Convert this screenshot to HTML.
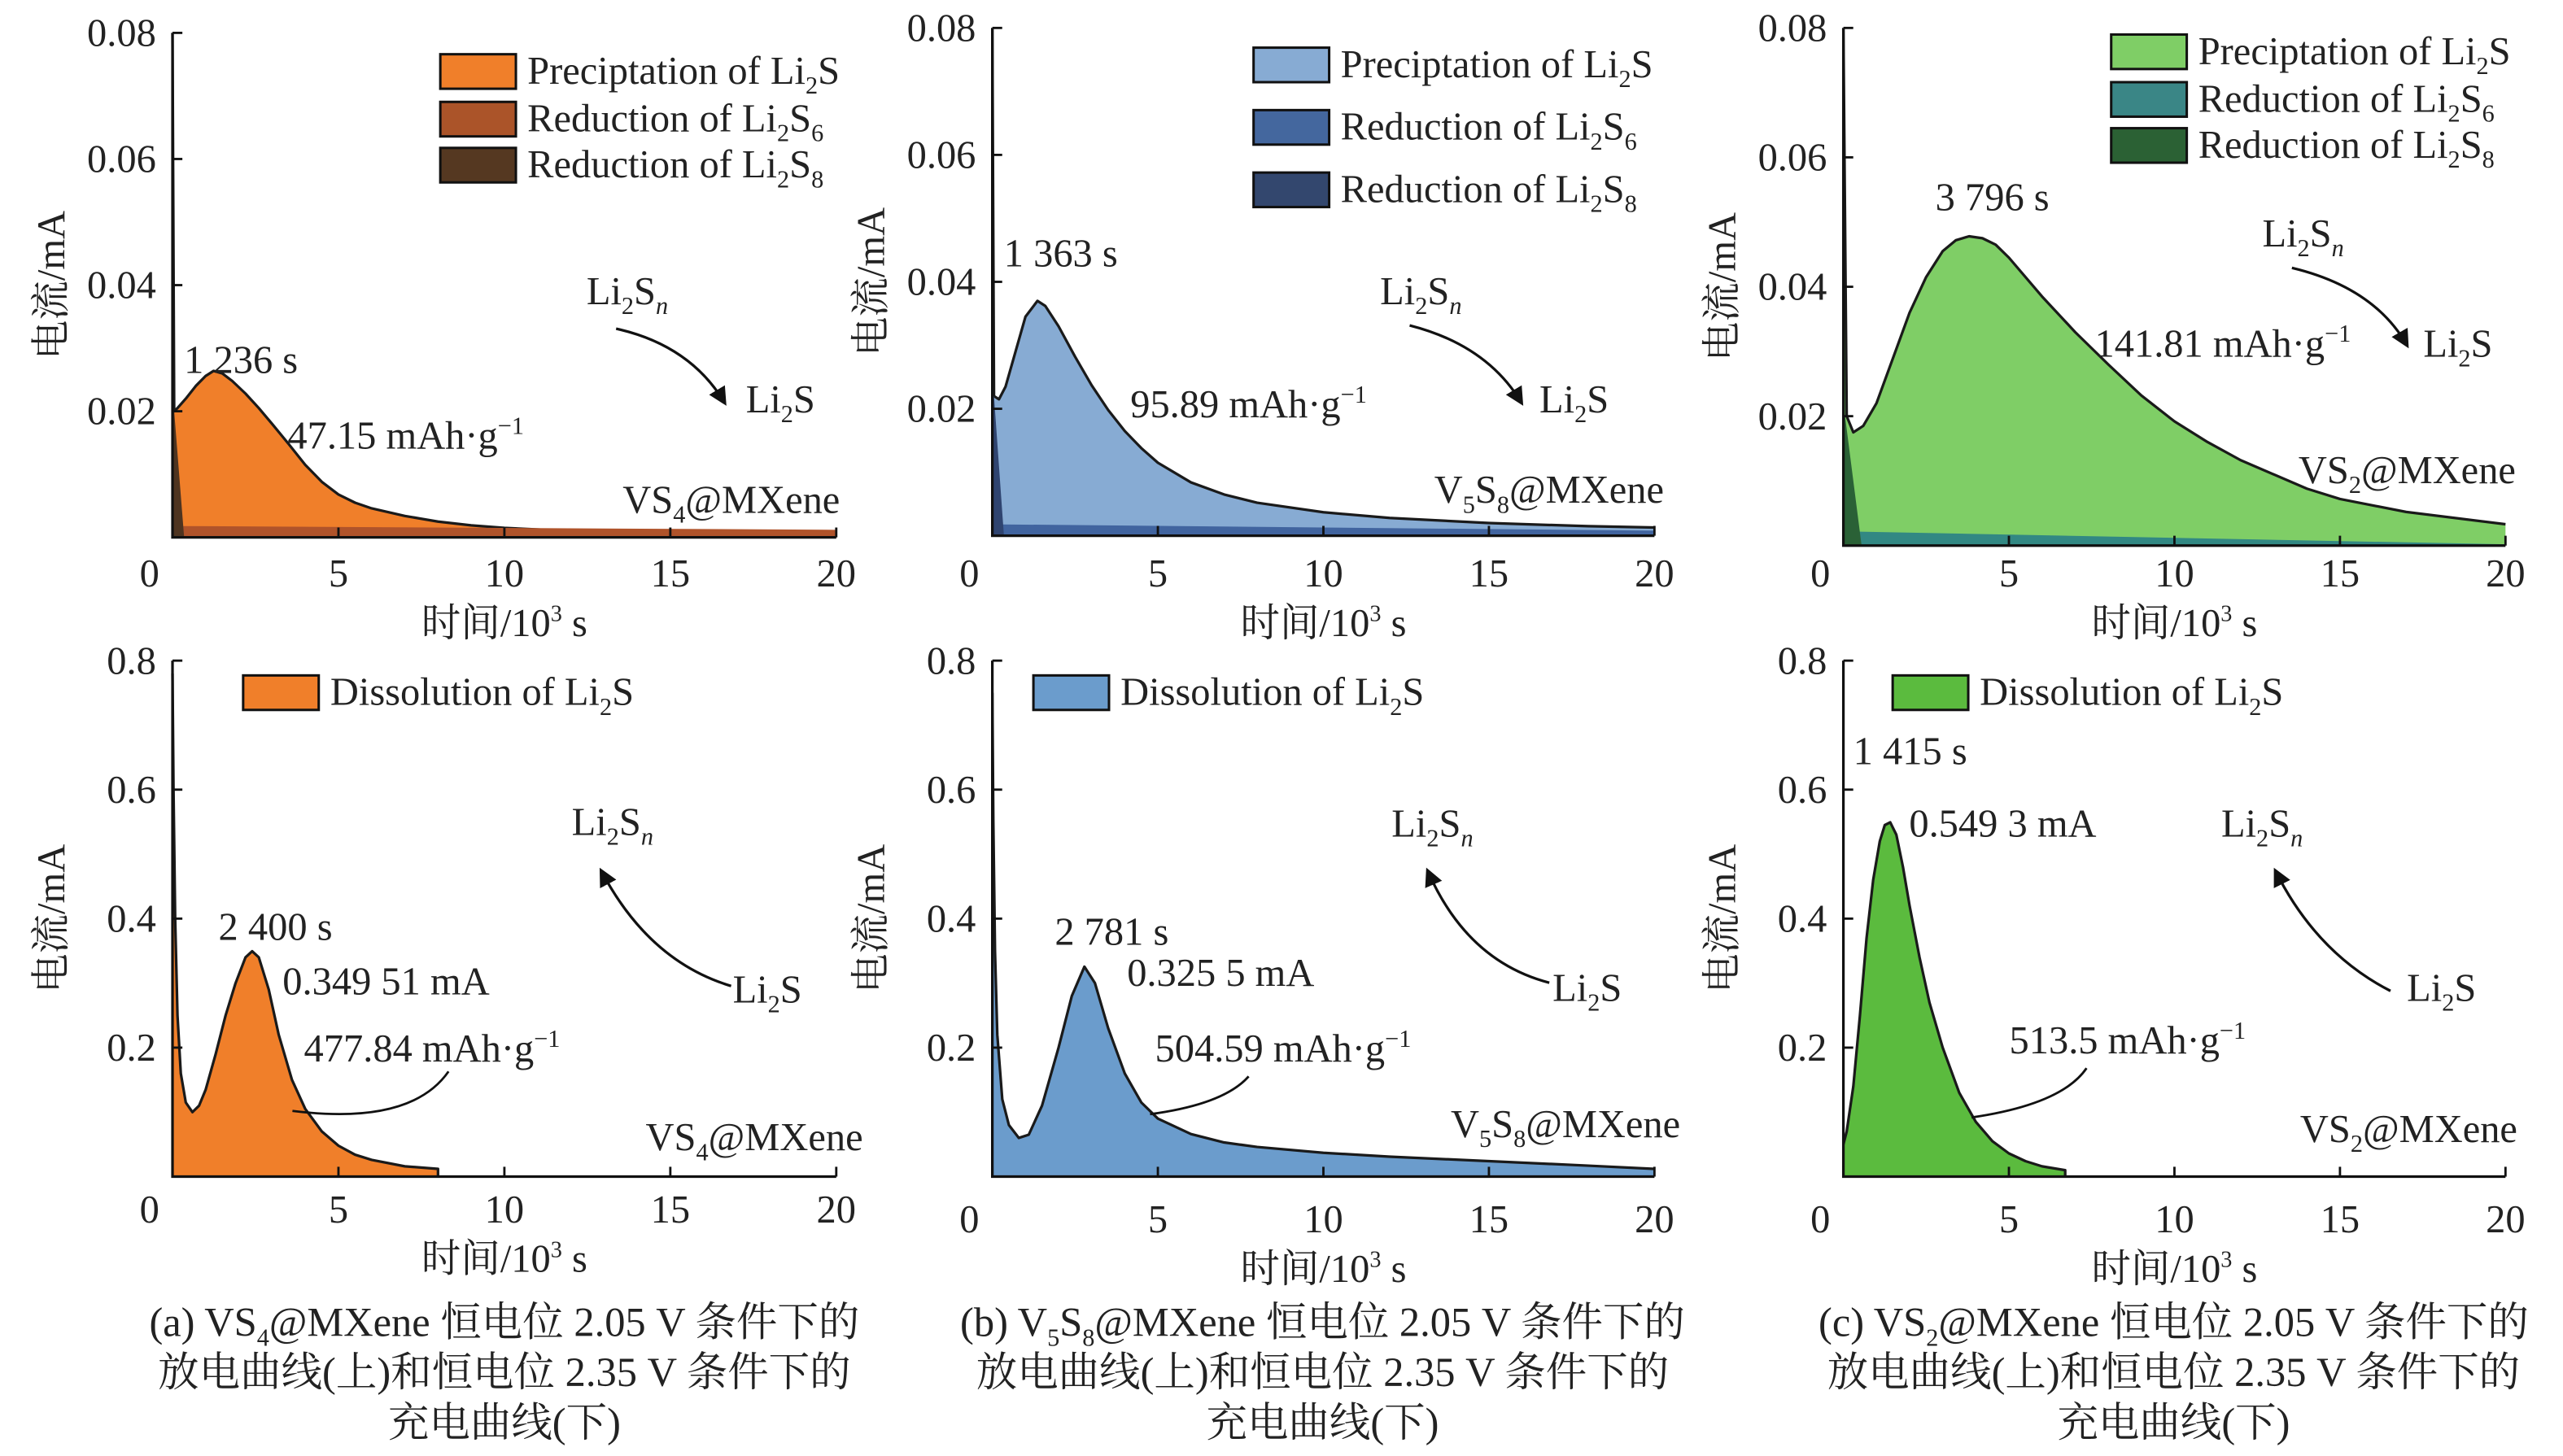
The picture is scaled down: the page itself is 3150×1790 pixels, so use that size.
<!DOCTYPE html>
<html><head><meta charset="utf-8">
<style>
html,body{margin:0;padding:0;background:#fff;}
svg{display:block;}
svg text{font-family:"Liberation Serif","Noto Serif CJK SC",serif;fill:#222;}
</style></head>
<body>
<svg id="fig" width="3150" height="1790" viewBox="0 0 1560 886" preserveAspectRatio="none" xmlns="http://www.w3.org/2000/svg" font-family="'Liberation Serif','Noto Serif CJK SC',serif">
<defs>
<marker id="ah" viewBox="0 0 10 10" refX="8" refY="5" markerWidth="7" markerHeight="7" orient="auto"><path d="M0,0 L10,5 L0,10 z" fill="#111"/></marker>
</defs>
<g id="layer"></g>
</svg>
<script>
// ---- data (time in 10^3 s, current in mA) ----
const xTicks = [0, 5, 10, 15, 20];
const yTicksTop = [0.02, 0.04, 0.06, 0.08];
const yTicksBot = [0.2, 0.4, 0.6, 0.8];
const yTickLabelsTop = ["0.02", "0.04", "0.06", "0.08"];
const yTickLabelsBot = ["0.2", "0.4", "0.6", "0.8"];

const tA1 = [0, 0.05, 0.15, 0.4, 0.7, 1.0, 1.236, 1.5, 1.8, 2.2, 2.6, 3.0, 3.5, 4.0, 4.5, 5.0, 5.5, 6.0, 7.0, 8.0, 9.0, 10.0, 12.0, 15.0, 18.0, 20.0];
const iA1 = [0.08, 0.02, 0.0205, 0.022, 0.024, 0.0256, 0.0264, 0.026, 0.0248, 0.0228, 0.0205, 0.018, 0.0148, 0.0115, 0.0088, 0.0068, 0.0055, 0.0046, 0.0034, 0.0025, 0.0019, 0.0015, 0.001, 0.0006, 0.0004, 0.0003];
const tA6 = [0, 20];
const iA6 = [0.0018, 0.0012];
const tA8 = [0, 0.05, 0.35];
const iA8 = [0.02, 0.02, 0.0];

const tB1 = [0, 0.05, 0.2, 0.4, 0.7, 1.0, 1.363, 1.6, 2.0, 2.5, 3.0, 3.5, 4.0, 4.5, 5.0, 6.0, 7.0, 8.0, 10.0, 12.0, 15.0, 18.0, 20.0];
const iB1 = [0.08, 0.022, 0.0215, 0.0235, 0.029, 0.0345, 0.037, 0.0362, 0.033, 0.0282, 0.0237, 0.0198, 0.0165, 0.0138, 0.0115, 0.0084, 0.0065, 0.0052, 0.0037, 0.0028, 0.002, 0.0015, 0.0013];
const tB6 = [0, 20];
const iB6 = [0.0018, 0.0008];
const tB8 = [0, 0.05, 0.35];
const iB8 = [0.022, 0.022, 0.0];

const tC1 = [0, 0.1, 0.3, 0.6, 1.0, 1.5, 2.0, 2.5, 3.0, 3.4, 3.796, 4.2, 4.6, 5.0, 6.0, 7.0, 8.0, 9.0, 10.0, 11.0, 12.0, 13.0, 14.0, 15.0, 17.0, 20.0];
const iC1 = [0.08, 0.02, 0.0175, 0.0185, 0.022, 0.029, 0.036, 0.0415, 0.0455, 0.0472, 0.0478, 0.0475, 0.0465, 0.0445, 0.0385, 0.033, 0.028, 0.0232, 0.0192, 0.016, 0.0132, 0.011, 0.0088, 0.0072, 0.0052, 0.0033];
const tC6 = [0, 20];
const iC6 = [0.0022, 0.0002];
const tC8 = [0, 0.05, 0.55];
const iC8 = [0.06, 0.02, 0.0];

const tA2 = [0, 0.03, 0.08, 0.15, 0.25, 0.4, 0.6, 0.8, 1.0, 1.3, 1.6, 1.9, 2.2, 2.4, 2.6, 2.9, 3.2, 3.6, 4.0, 4.5, 5.0, 5.5, 6.0, 7.0, 8.0, 8.0];
const iA2 = [0.78, 0.6, 0.4, 0.25, 0.16, 0.115, 0.1, 0.11, 0.135, 0.19, 0.25, 0.3, 0.34, 0.3495, 0.34, 0.29, 0.22, 0.15, 0.105, 0.07, 0.048, 0.034, 0.026, 0.016, 0.012, 0.0];
const tB2 = [0, 0.03, 0.08, 0.15, 0.3, 0.5, 0.8, 1.1, 1.5, 2.0, 2.4, 2.781, 3.1, 3.5, 4.0, 4.5, 5.0, 6.0, 7.0, 8.0, 10.0, 12.0, 15.0, 18.0, 20.0];
const iB2 = [0.75, 0.55, 0.35, 0.22, 0.12, 0.08, 0.06, 0.065, 0.11, 0.2, 0.28, 0.3255, 0.3, 0.23, 0.16, 0.115, 0.09, 0.066, 0.053, 0.046, 0.037, 0.031, 0.024, 0.017, 0.012];
const tC2 = [0, 0.1, 0.3, 0.5, 0.7, 0.9, 1.1, 1.25, 1.415, 1.6, 1.8, 2.0, 2.3, 2.6, 3.0, 3.5, 4.0, 4.5, 5.0, 5.5, 6.0, 6.7, 6.7];
const iC2 = [0.05, 0.07, 0.14, 0.25, 0.37, 0.46, 0.52, 0.545, 0.5493, 0.53, 0.48, 0.42, 0.34, 0.27, 0.2, 0.13, 0.085, 0.055, 0.036, 0.024, 0.016, 0.01, 0.0];

const NS = "http://www.w3.org/2000/svg";
const FONT = "'Liberation Serif','Noto Serif CJK SC',serif";
const layer = document.getElementById("layer");
function mk(tag, attrs, parent) {
  const e = document.createElementNS(NS, tag);
  for (const k in attrs) e.setAttribute(k, attrs[k]);
  (parent || layer).appendChild(e);
  return e;
}
function mkText(x, y, html, size, anchor, parent) {
  const t = mk("text", {x: x, y: y, "font-size": size || 24, "text-anchor": anchor || "start", "font-family": FONT}, parent);
  t.innerHTML = html;
  return t;
}
const SUB = (s) => `<tspan font-size="15" dy="6">${s}</tspan><tspan dy="-6">`;
const LI2S = `Li${SUB("2")}S</tspan>`;
const LI2SN = `Li${SUB("2")}S</tspan><tspan font-size="15" dy="6" font-style="italic">n</tspan><tspan dy="-6"></tspan>`;
const LI2S6 = `Li${SUB("2")}S</tspan><tspan font-size="15" dy="6">6</tspan><tspan dy="-6"></tspan>`;
const LI2S8 = `Li${SUB("2")}S</tspan><tspan font-size="15" dy="6">8</tspan><tspan dy="-6"></tspan>`;
const MAHG = (v) => `${v} mAh·g<tspan font-size="15" dy="-9">−1</tspan><tspan dy="9"></tspan>`;

function panel(p) {
  const g = mk("g", {});
  
  
  const sx = (t) => p.x0 + (p.x1 - p.x0) * t / 20;
  const sy = (v) => p.y0 - (p.y0 - p.yT) * v / p.yMax;
  const area = (ts, is, fill, name, stroke) => {
    let d = `M${sx(ts[0])},${sy(0)}`;
    for (let k = 0; k < ts.length; k++) d += ` L${sx(ts[k])},${sy(Math.min(is[k], p.yMax))}`;
    d += ` L${sx(ts[ts.length - 1])},${sy(0)} Z`;
    const a = mk("path", {d: d, fill: fill}, g);
    
    
    if (stroke) {
      let l = "";
      for (let k = 0; k < ts.length; k++) l += (k ? " L" : "M") + sx(ts[k]) + "," + sy(Math.min(is[k], p.yMax));
      const ln = mk("path", {d: l, fill: "none", stroke: "#1a1a1a", "stroke-width": 1.6, "stroke-linejoin": "round"}, g);
      
      
    }
  };
  area(p.t1, p.i1, p.c1, "main-area", true);
  if (p.t6) area(p.t6, p.i6, p.c6, "li2s6-area", false);
  if (p.t8) area(p.t8, p.i8, p.c8, "li2s8-area", false);
  const ax = mk("path", {d: `M${p.x0},${p.yT} L${p.x0},${p.y0} L${p.x1},${p.y0}`, fill: "none", stroke: "#111", "stroke-width": 1.6}, g);
  
  
  xTicks.forEach((v) => {
    mk("line", {x1: sx(v), x2: sx(v), y1: p.y0, y2: p.y0 - 6, stroke: "#111", "stroke-width": 1.4}, g);
    const lx = v === 0 ? p.x0 - 14 : sx(v);
    const tl = mkText(lx, p.xl, String(v), 24, "middle", g);
    
    
  });
  p.yt.forEach((v, k) => {
    mk("line", {x1: p.x0, x2: p.x0 + 6, y1: sy(v), y2: sy(v), stroke: "#111", "stroke-width": 1.4}, g);
    const tl = mkText(p.x0 - 10, sy(v) + 8, p.ytl[k], 24, "end", g);
    
    
  });
  const xt = mkText((p.x0 + p.x1) / 2, p.xl + 30, `时间/10<tspan font-size="14" dy="-9">3</tspan><tspan dy="9"> s</tspan>`, 24, "middle", g);
  
  
  const yt = mkText(0, 0, "电流/mA", 24, "middle", g);
  yt.setAttribute("transform", `translate(${p.x0 - 66},${(p.yT + p.y0) / 2}) rotate(-90)`);
  
  
  return g;
}
function legend(x, y, color, label, g) {
  const r = mk("rect", {x: x, y: y, width: 46, height: 21, fill: color, stroke: "#111", "stroke-width": 1.5}, g);
  
  
  const t = mkText(x + 53, y + 18, label, 24, "start", g);
  
  
}
function note(x, y, html, name) {
  const t = mkText(x, y, html, 24);
  
  
}
function arrow(d, name) {
  const a = mk("path", {d: d, fill: "none", stroke: "#111", "stroke-width": 1.6, "marker-end": "url(#ah)"});
  
  
}
function line(d, name) {
  const a = mk("path", {d: d, fill: "none", stroke: "#111", "stroke-width": 1.4});
  
  
}

const gA1 = panel({name: "panel-a-discharge", x0: 105, x1: 509, y0: 327, yT: 20, yMax: 0.08, yt: yTicksTop, ytl: yTickLabelsTop, xl: 357,
  t1: tA1, i1: iA1, c1: "#f07f2a", t6: tA6, i6: iA6, c6: "#b0532a", t8: tA8, i8: iA8, c8: "#4e3420"});
legend(268, 33, "#f07f2a", "Preciptation of " + LI2S, gA1);
legend(268, 62, "#ab5429", "Reduction of " + LI2S6, gA1);
legend(268, 90, "#553821", "Reduction of " + LI2S8, gA1);
note(112, 227, "1 236 s", "peak-time-label");
note(175, 273, MAHG("47.15"), "capacity-label");
note(357, 185, LI2SN, "reactant-label");
note(454, 251, LI2S, "product-label");
note(379, 312, `VS${SUB("4")}@MXene</tspan>`, "sample-label");
arrow("M375,200 Q420,210 441,245", "reaction-arrow");

const gB1 = panel({name: "panel-b-discharge", x0: 604, x1: 1007, y0: 326, yT: 17, yMax: 0.08, yt: yTicksTop, ytl: yTickLabelsTop, xl: 357,
  t1: tB1, i1: iB1, c1: "#87abd3", t6: tB6, i6: iB6, c6: "#41649f", t8: tB8, i8: iB8, c8: "#2f4470"});
legend(763, 29, "#87abd3", "Preciptation of " + LI2S, gB1);
legend(763, 67, "#44679e", "Reduction of " + LI2S6, gB1);
legend(763, 105, "#33476e", "Reduction of " + LI2S8, gB1);
note(611, 162, "1 363 s", "peak-time-label");
note(688, 254, MAHG("95.89"), "capacity-label");
note(840, 185, LI2SN, "reactant-label");
note(937, 251, LI2S, "product-label");
note(873, 306, `V${SUB("5")}S</tspan><tspan font-size="15" dy="6">8</tspan><tspan dy="-6">@MXene</tspan>`, "sample-label");
arrow("M858,198 Q905,210 926,245", "reaction-arrow");

const gC1 = panel({name: "panel-c-discharge", x0: 1122, x1: 1525, y0: 332, yT: 17, yMax: 0.08, yt: yTicksTop, ytl: yTickLabelsTop, xl: 357,
  t1: tC1, i1: iC1, c1: "#7fce66", t6: tC6, i6: iC6, c6: "#328883", t8: tC8, i8: iC8, c8: "#2a6136"});
legend(1285, 21, "#7fce66", "Preciptation of " + LI2S, gC1);
legend(1285, 50, "#3a8686", "Reduction of " + LI2S6, gC1);
legend(1285, 78, "#2b6134", "Reduction of " + LI2S8, gC1);
note(1178, 128, "3 796 s", "peak-time-label");
note(1275, 217, MAHG("141.81"), "capacity-label");
note(1377, 150, LI2SN, "reactant-label");
note(1475, 217, LI2S, "product-label");
note(1399, 294, `VS${SUB("2")}@MXene</tspan>`, "sample-label");
arrow("M1395,163 Q1445,175 1465,210", "reaction-arrow");

const gA2 = panel({name: "panel-a-charge", x0: 105, x1: 509, y0: 716, yT: 402, yMax: 0.8, yt: yTicksBot, ytl: yTickLabelsBot, xl: 744,
  t1: tA2, i1: iA2, c1: "#f07f2a"});
legend(148, 411, "#f07f2a", "Dissolution of " + LI2S, gA2);
note(133, 572, "2 400 s", "peak-time-label");
note(172, 605, "0.349 51 mA", "peak-current-label");
note(185, 646, MAHG("477.84"), "capacity-label");
note(348, 508, LI2SN, "reactant-label");
note(446, 610, LI2S, "product-label");
note(393, 700, `VS${SUB("4")}@MXene</tspan>`, "sample-label");
arrow("M445,600 Q395,585 366,530", "reaction-arrow");
line("M178,676 Q250,685 273,652", "capacity-callout");

const gB2 = panel({name: "panel-b-charge", x0: 604, x1: 1007, y0: 716, yT: 402, yMax: 0.8, yt: yTicksBot, ytl: yTickLabelsBot, xl: 750,
  t1: tB2, i1: iB2, c1: "#6b9ccc"});
legend(629, 411, "#6b9ccc", "Dissolution of " + LI2S, gB2);
note(642, 575, "2 781 s", "peak-time-label");
note(686, 600, "0.325 5 mA", "peak-current-label");
note(703, 646, MAHG("504.59"), "capacity-label");
note(847, 509, LI2SN, "reactant-label");
note(945, 609, LI2S, "product-label");
note(883, 692, `V${SUB("5")}S</tspan><tspan font-size="15" dy="6">8</tspan><tspan dy="-6">@MXene</tspan>`, "sample-label");
arrow("M943,598 Q893,585 869,530", "reaction-arrow");
line("M700,678 Q745,672 760,655", "capacity-callout");

const gC2 = panel({name: "panel-c-charge", x0: 1122, x1: 1525, y0: 716, yT: 402, yMax: 0.8, yt: yTicksBot, ytl: yTickLabelsBot, xl: 750,
  t1: tC2, i1: iC2, c1: "#5bbb3e"});
legend(1152, 411, "#5bbb3e", "Dissolution of " + LI2S, gC2);
note(1128, 465, "1 415 s", "peak-time-label");
note(1162, 509, "0.549 3 mA", "peak-current-label");
note(1223, 641, MAHG("513.5"), "capacity-label");
note(1352, 509, LI2SN, "reactant-label");
note(1465, 609, LI2S, "product-label");
note(1400, 695, `VS${SUB("2")}@MXene</tspan>`, "sample-label");
arrow("M1455,603 Q1410,580 1385,530", "reaction-arrow");
line("M1200,680 Q1255,672 1270,650", "capacity-callout");

const caps = [
  [307, [`(a) VS${SUB("4")}@MXene 恒电位 2.05 V 条件下的</tspan>`, "放电曲线(上)和恒电位 2.35 V 条件下的", "充电曲线(下)"], "caption-a"],
  [805, [`(b) V${SUB("5")}S</tspan><tspan font-size="15" dy="6">8</tspan><tspan dy="-6">@MXene 恒电位 2.05 V 条件下的</tspan>`, "放电曲线(上)和恒电位 2.35 V 条件下的", "充电曲线(下)"], "caption-b"],
  [1323, [`(c) VS${SUB("2")}@MXene 恒电位 2.05 V 条件下的</tspan>`, "放电曲线(上)和恒电位 2.35 V 条件下的", "充电曲线(下)"], "caption-c"]
];
caps.forEach((c) => {
  c[1].forEach((s, k) => {
    const t = mkText(c[0], 813 + k * 30.5, s, 25, "middle");
    
    
  });
});
</script>
</body></html>
